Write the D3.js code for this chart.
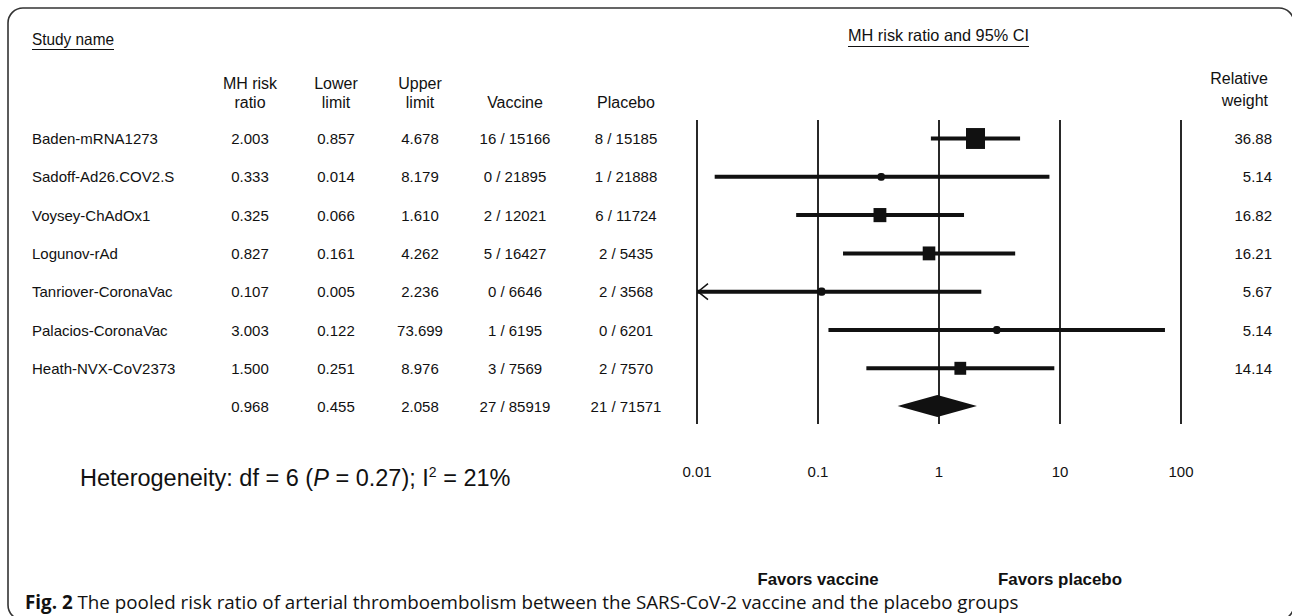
<!DOCTYPE html>
<html><head><meta charset="utf-8">
<script src="https://cdn.jsdelivr.net/npm/d3@7"></script>
<style>
html,body{margin:0;padding:0;background:#fff;}
svg{display:block;}
text{font-family:"Liberation Sans",Arial,sans-serif;fill:#111;}
</style></head>
<body><svg id="c" width="1292" height="616"></svg>
<script>
// ---- data ----
const studies = ["Baden-mRNA1273","Sadoff-Ad26.COV2.S","Voysey-ChAdOx1","Logunov-rAd","Tanriover-CoronaVac","Palacios-CoronaVac","Heath-NVX-CoV2373"];
const ratio  = [2.003, 0.333, 0.325, 0.827, 0.107, 3.003, 1.500];
const lower  = [0.857, 0.014, 0.066, 0.161, 0.005, 0.122, 0.251];
const upper  = [4.678, 8.179, 1.610, 4.262, 2.236, 73.699, 8.976];
const vaccine = ["16 / 15166","0 / 21895","2 / 12021","5 / 16427","0 / 6646","1 / 6195","3 / 7569"];
const placebo = ["8 / 15185","1 / 21888","6 / 11724","2 / 5435","2 / 3568","0 / 6201","2 / 7570"];
const weight = [36.88, 5.14, 16.82, 16.21, 5.67, 5.14, 14.14];
const pooledVals = [0.968, 0.455, 2.058];
const pooledCounts = ["27 / 85919","21 / 71571"];
const tickValues = [0.01, 0.1, 1, 10, 100];
const tickLabels = ["0.01","0.1","1","10","100"];

const svg = d3.select("#c");
const fmt3 = d3.format(".3f");

// border
svg.append("rect").attr("x",8).attr("y",8).attr("width",1286).attr("height",612)
  .attr("rx",15).attr("fill","none").attr("stroke","#333").attr("stroke-width",1.6);

const x = d3.scaleLog().domain([0.01,100]).range([697,1181]);
const rowY = d3.scaleLinear().domain([0,1]).range([138.5,176.8]);

const cols = {ratio:250, lower:336, upper:420, vac:515, pla:626};

// headers
svg.append("text").attr("x",32).attr("y",45).attr("font-size",16.5)
  .attr("textLength",82).attr("lengthAdjust","spacingAndGlyphs").text("Study name");
svg.append("line").attr("x1",32).attr("x2",114).attr("y1",49.5).attr("y2",49.5).attr("stroke","#111").attr("stroke-width",1);
svg.append("text").attr("x",848).attr("y",41).attr("font-size",16.5)
  .attr("textLength",181).attr("lengthAdjust","spacingAndGlyphs").text("MH risk ratio and 95% CI");
svg.append("line").attr("x1",848).attr("x2",1029).attr("y1",46.5).attr("y2",46.5).attr("stroke","#111").attr("stroke-width",1);

function hdr2(xc, l1, l2){
  if(l1) svg.append("text").attr("x",xc).attr("y",89).attr("font-size",16).attr("text-anchor","middle").text(l1);
  svg.append("text").attr("x",xc).attr("y",108).attr("font-size",16).attr("text-anchor","middle").text(l2);
}
hdr2(cols.ratio,"MH risk","ratio");
hdr2(cols.lower,"Lower","limit");
hdr2(cols.upper,"Upper","limit");
hdr2(cols.vac,null,"Vaccine");
hdr2(cols.pla,null,"Placebo");
svg.append("text").attr("x",1268).attr("y",84).attr("font-size",16).attr("text-anchor","end").text("Relative");
svg.append("text").attr("x",1268).attr("y",106).attr("font-size",16).attr("text-anchor","end").text("weight");

// vertical reference lines
svg.append("g").selectAll("line").data(tickValues).join("line")
  .attr("x1",d=>x(d)).attr("x2",d=>x(d)).attr("y1",120).attr("y2",424)
  .attr("stroke","#111").attr("stroke-width",1.8);

// rows
const g = svg.append("g");
studies.forEach((s,i)=>{
  const y = rowY(i);
  const t = (xx, txt, anchor)=> g.append("text").attr("x",xx).attr("y",y+5.5).attr("font-size",15).attr("text-anchor",anchor||"middle").text(txt);
  t(32, s, "start");
  t(cols.ratio, fmt3(ratio[i]));
  t(cols.lower, fmt3(lower[i]));
  t(cols.upper, fmt3(upper[i]));
  t(cols.vac, vaccine[i]);
  t(cols.pla, placebo[i]);
  t(1272, weight[i].toFixed(2), "end");
  // CI line
  const lo = Math.max(lower[i], 0.01), hi = Math.min(upper[i], 100);
  g.append("line").attr("x1",x(lo)).attr("x2",x(hi)).attr("y1",y).attr("y2",y)
    .attr("stroke","#111").attr("stroke-width",4);
  if(lower[i] < 0.01){
    const ax = x(0.01);
    g.append("path").attr("d",`M${ax+11},${y-8} L${ax+1},${y} L${ax+11},${y+8}`)
      .attr("fill","none").attr("stroke","#111").attr("stroke-width",1.5);
  }
  const side = 3.13*Math.sqrt(weight[i]);
  g.append("rect").attr("x",x(ratio[i])-side/2).attr("y",y-side/2*1.1)
    .attr("width",side).attr("height",side*1.1).attr("fill","#111")
    .attr("rx", side<9 ? side/2.5 : 0);
});

// pooled row
{
  const y = rowY(7);
  const t = (xx, txt)=> g.append("text").attr("x",xx).attr("y",y+5.5).attr("font-size",15).attr("text-anchor","middle").text(txt);
  t(cols.ratio, fmt3(pooledVals[0]));
  t(cols.lower, fmt3(pooledVals[1]));
  t(cols.upper, fmt3(pooledVals[2]));
  t(cols.vac, pooledCounts[0]);
  t(cols.pla, pooledCounts[1]);
  const yd = y-0.5;
  g.append("path").attr("d",`M${x(pooledVals[1])},${yd} L${x(pooledVals[0])},${yd-11} L${x(pooledVals[2])},${yd} L${x(pooledVals[0])},${yd+11} Z`).attr("fill","#111");
}

// tick labels
svg.append("g").selectAll("text").data(tickValues).join("text")
  .attr("x",d=>x(d)).attr("y",477).attr("font-size",15).attr("text-anchor","middle")
  .text((d,i)=>tickLabels[i]);

// heterogeneity
const het = svg.append("text").attr("x",80).attr("y",486).attr("font-size",23.5);
het.append("tspan").text("Heterogeneity: df = 6 (");
het.append("tspan").attr("font-style","italic").text("P");
het.append("tspan").text(" = 0.27); I");
het.append("tspan").attr("font-size",14).attr("dy",-9).text("2");
het.append("tspan").attr("dy",9).text(" = 21%");

// favors
svg.append("text").attr("x",x(0.1)).attr("y",585).attr("font-size",17).attr("font-weight","bold").attr("text-anchor","middle")
  .attr("textLength",121).attr("lengthAdjust","spacingAndGlyphs").text("Favors vaccine");
svg.append("text").attr("x",x(10)).attr("y",585).attr("font-size",17).attr("font-weight","bold").attr("text-anchor","middle")
  .attr("textLength",124).attr("lengthAdjust","spacingAndGlyphs").text("Favors placebo");

// caption
const cap = svg.append("text").attr("x",25).attr("y",609).attr("font-size",18.8).style("font-family","'Open Sans',sans-serif");
cap.append("tspan").attr("font-weight","bold").text("Fig. 2");
cap.append("tspan").text(" The pooled risk ratio of arterial thromboembolism between the SARS-CoV-2 vaccine and the placebo groups");
</script></body></html>
